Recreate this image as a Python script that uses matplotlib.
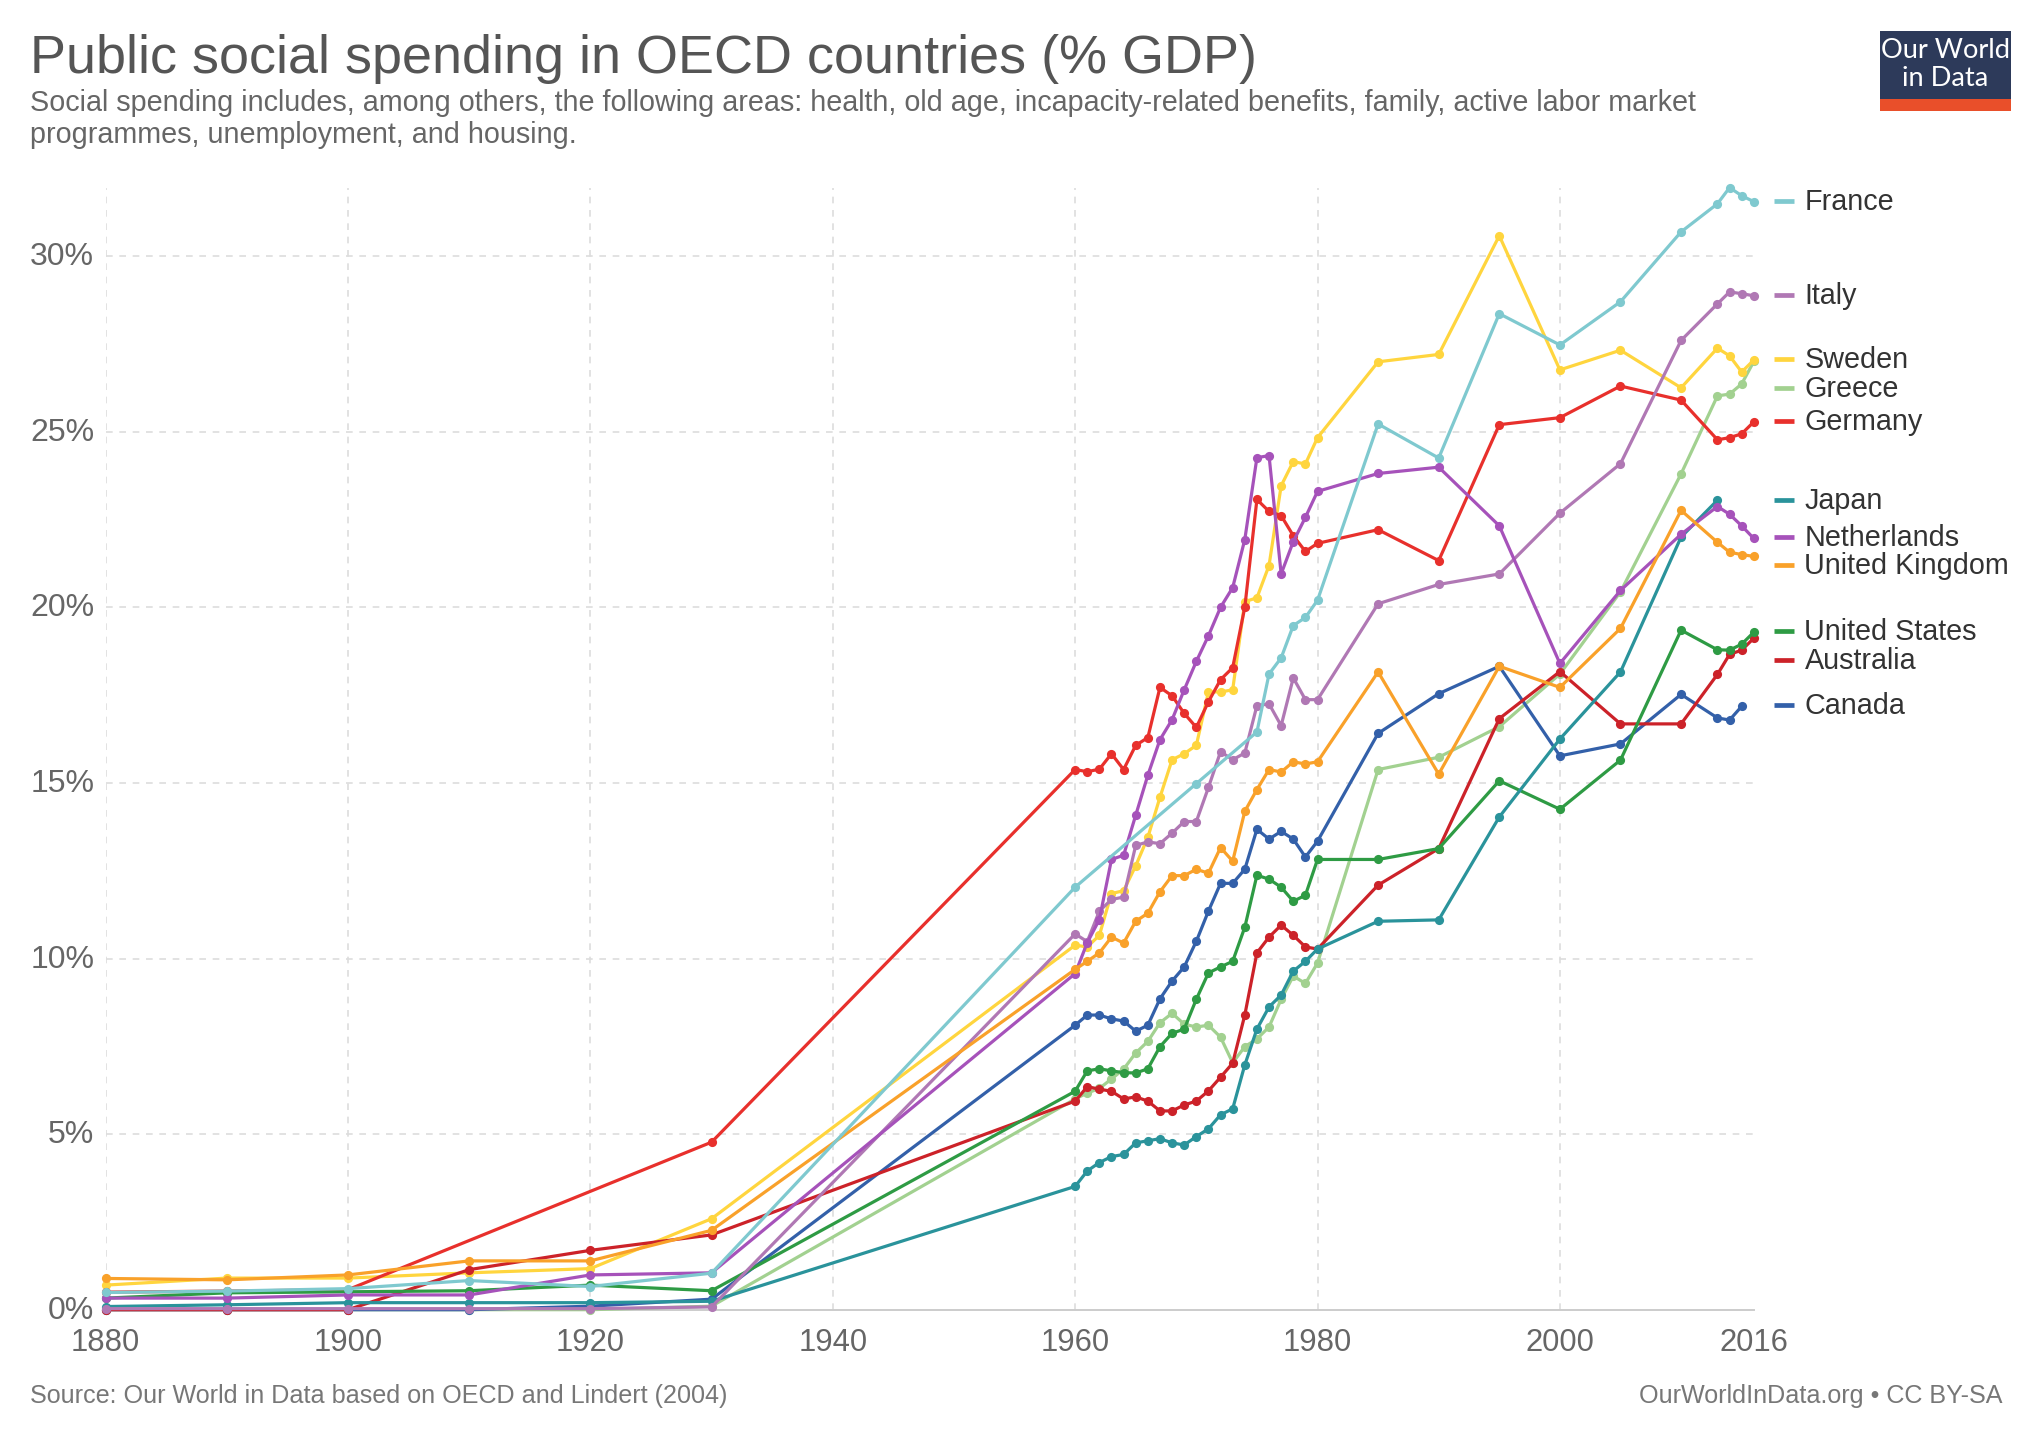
import matplotlib
matplotlib.use("Agg")
import matplotlib.pyplot as plt
from matplotlib.lines import Line2D
from matplotlib.patches import Rectangle
from matplotlib.transforms import ScaledTranslation

plt.rcParams['font.family'] = ['Liberation Sans', 'DejaVu Sans']

W, H = 2040, 1440

years = [1880, 1890, 1900, 1910, 1920, 1930] + list(range(1960, 1981)) + \
        [1985, 1990, 1995, 2000, 2005, 2010, 2013, 2014, 2015, 2016]

france = [0.49, 0.53, 0.60, 0.83, 0.66, 1.04, 12.03, None, None, None, None, None, None, None, None, None,
          14.98, None, None, None, None, 16.45, 18.10, 18.56, 19.48, 19.71, 20.20,
          25.22, 24.25, 28.36, 27.47, 28.70, 30.69, 31.49, 31.95, 31.72, 31.55]
italy = [0.03, 0.03, 0.03, 0.03, 0.03, 0.08, 10.70, 10.48, 11.35, 11.68, 11.75, 13.22, 13.32, 13.27, 13.57, 13.90,
         13.90, 14.87, 15.89, 15.66, 15.85, 17.20, 17.25, 16.63, 17.99, 17.37, 17.37,
         20.10, 20.65, 20.95, 22.68, 24.09, 27.60, 28.64, 28.98, 28.93, 28.87]
sweden = [0.70, 0.90, 0.90, 1.05, 1.17, 2.59, 10.38, 10.33, 10.66, 11.85, 11.93, 12.64, 13.45, 14.59, 15.66, 15.83,
          16.07, 17.59, 17.59, 17.65, 20.16, 20.27, 21.19, 23.46, 24.15, 24.08, 24.83,
          26.99, 27.20, 30.58, 26.76, 27.32, 26.25, 27.38, 27.16, 26.70, 27.04]
greece = [0.0, 0.0, 0.0, 0.0, 0.0, 0.10, 6.00, 6.17, 6.30, 6.57, 6.85, 7.31, 7.64, 8.17, 8.44, 8.13,
          8.05, 8.10, 7.76, 7.03, 7.49, 7.71, 8.05, 8.84, 9.50, 9.29, 9.87,
          15.38, 15.73, 16.60, 18.10, 20.44, 23.80, 26.02, 26.07, 26.36, 27.00]
germany = [0.50, 0.53, 0.57, None, None, 4.77, 15.38, 15.32, 15.39, 15.83, 15.38, 16.07, 16.29, 17.72, 17.48, 16.98,
           16.58, 17.31, 17.94, 18.28, 20.00, 23.07, 22.73, 22.61, 22.04, 21.59, 21.82,
           22.21, 21.33, 25.20, 25.40, 26.30, 25.90, 24.77, 24.83, 24.94, 25.28]
japan = [0.09, 0.14, 0.20, 0.20, 0.20, 0.24, 3.51, 3.95, 4.19, 4.36, 4.42, 4.75, 4.81, 4.87, 4.75, 4.69,
         4.93, 5.15, 5.55, 5.72, 6.97, 7.99, 8.62, 8.96, 9.64, 9.92, 10.27,
         11.06, 11.10, 14.03, 16.25, 18.16, 22.00, 23.05, None, None, None]
netherlands = [0.33, 0.33, 0.42, 0.42, 0.99, 1.05, 9.57, 10.45, 11.11, 12.82, 12.94, 14.08, 15.22, 16.23, 16.80, 17.65,
               18.46, 19.19, 20.00, 20.56, 21.93, 24.26, 24.32, 20.95, 21.87, 22.56, 23.30,
               23.81, 23.99, 22.32, 18.40, 20.48, 22.08, 22.87, 22.65, 22.32, 21.96]
uk = [0.89, 0.85, 0.99, 1.39, 1.39, 2.26, 9.69, 9.92, 10.16, 10.61, 10.44, 11.06, 11.29, 11.90, 12.36, 12.36,
      12.54, 12.43, 13.16, 12.77, 14.19, 14.81, 15.38, 15.31, 15.60, 15.54, 15.60,
      18.16, 15.25, 18.32, 17.72, 19.40, 22.76, 21.85, 21.57, 21.50, 21.45]
us = [0.33, 0.48, 0.51, 0.54, 0.70, 0.54, 6.22, 6.80, 6.86, 6.80, 6.75, 6.74, 6.86, 7.49, 7.87, 7.99,
      8.84, 9.59, 9.76, 9.92, 10.89, 12.37, 12.26, 12.03, 11.63, 11.80, 12.82,
      12.82, 13.13, 15.06, 14.25, 15.65, 19.35, 18.79, 18.78, 18.95, 19.29]
australia = [0.0, 0.0, 0.0, 1.14, 1.69, 2.13, 5.94, 6.35, 6.28, 6.22, 6.00, 6.06, 5.94, 5.66, 5.66, 5.83,
             5.94, 6.23, 6.62, 7.02, 8.39, 10.16, 10.61, 10.95, 10.66, 10.33, 10.27,
             12.09, 13.13, 16.83, 18.17, 16.68, 16.68, 18.09, 18.66, 18.78, 19.12]
canada = [0.0, 0.0, 0.0, 0.0, 0.10, 0.30, 8.10, 8.39, 8.39, 8.28, 8.22, 7.93, 8.10, 8.85, 9.36, 9.76,
          10.49, 11.35, 12.14, 12.14, 12.54, 13.68, 13.40, 13.62, 13.40, 12.89, 13.34,
          16.41, 17.54, 18.32, 15.77, 16.11, 17.52, 16.85, 16.79, 17.18, None]

# bottom to top
series = [
    ("Greece", greece, "#A2D190"),
    ("Sweden", sweden, "#FFD53E"),
    ("Germany", germany, "#E8302C"),
    ("Canada", canada, "#3360A9"),
    ("Australia", australia, "#CC2229"),
    ("United States", us, "#2E9B44"),
    ("Japan", japan, "#2A939B"),
    ("Italy", italy, "#B078B4"),
    ("Netherlands", netherlands, "#A652BA"),
    ("United Kingdom", uk, "#F9A12A"),
    ("France", france, "#7FC9CF"),
]

# label centres, figure pixels from the top
label_y = {"France": 201, "Italy": 295, "Sweden": 359, "Greece": 388, "Germany": 421,
           "Japan": 500, "Netherlands": 537, "United Kingdom": 565,
           "United States": 631, "Australia": 660, "Canada": 705}

xticks = [1880, 1900, 1920, 1940, 1960, 1980, 2000, 2016]
yticks = [0, 5, 10, 15, 20, 25, 30]


def fx(px):
    return px / W


def fy(px):
    return 1 - px / H


fig = plt.figure(figsize=(W / 100, H / 100), dpi=100, facecolor="white")
ax = fig.add_axes([fx(105.6), fy(1309.7), (1753.8 - 105.6) / W, (1309.7 - 188) / H])
ax.set_xlim(1880, 2016)
ax.set_ylim(0, (1309.7 - 188) / 35.12)

for name, vals, col in series:
    xs = [y for y, v in zip(years, vals) if v is not None]
    ys = [v for v in vals if v is not None]
    ax.plot(xs, ys, color=col, lw=2.3, marker="o", ms=6.6, mew=0, clip_on=False,
            solid_joinstyle="round", zorder=3)

ax.set_xticks(xticks)
ax.set_xticklabels([str(x) for x in xticks])
ax.set_yticks(yticks)
ax.set_yticklabels([f"{y}%" for y in yticks])
ax.tick_params(length=0, labelcolor="#666666", labelsize=22.3)
ax.tick_params(axis="x", pad=13.5)
ax.tick_params(axis="y", pad=8.2, labelsize=23)
# y labels sit a little above the gridlines
up = ScaledTranslation(0, 2.5 / 100, fig.dpi_scale_trans)
for lab in ax.get_yticklabels():
    lab.set_transform(lab.get_transform() + up)
ax.grid(True, color="#DDDDDD", lw=1.2, dashes=(4, 4), zorder=0)
ax.xaxis.get_gridlines()[-1].set_visible(False)
ax.yaxis.get_gridlines()[0].set_visible(False)
ax.set_axisbelow(True)
for side in ["top", "right", "left"]:
    ax.spines[side].set_visible(False)
ax.spines["bottom"].set_color("#CCCCCC")
ax.spines["bottom"].set_linewidth(1.4)

for name, vals, col in series:
    y = label_y[name]
    fig.add_artist(Line2D([fx(1774), fx(1794)], [fy(y), fy(y)], color=col, lw=3.4, solid_capstyle="butt"))
    fig.text(fx(1804.5), fy(y + 1), name, fontsize=20.7, color="#333333", va="center", ha="left")

fig.text(fx(30), fy(59), "Public social spending in OECD countries (% GDP)", fontsize=38.9,
         color="#555555", va="center", ha="left")
fig.text(fx(30), fy(103), "Social spending includes, among others, the following areas: health, old age, "
         "incapacity-related benefits, family, active labor market", fontsize=20.69, color="#666666",
         va="center", ha="left")
fig.text(fx(30), fy(135), "programmes, unemployment, and housing.", fontsize=20.69, color="#666666",
         va="center", ha="left")
fig.text(fx(30), fy(1396), "Source: Our World in Data based on OECD and Lindert (2004)", fontsize=18.1,
         color="#777777", va="center", ha="left")
fig.text(fx(2003), fy(1396), "OurWorldInData.org \u2022 CC BY-SA", fontsize=18.1, color="#777777",
         va="center", ha="right")

# logo
fig.add_artist(Rectangle((fx(1880), fy(99)), 131 / W, 68 / H, transform=fig.transFigure, color="#2D3A5A", lw=0))
fig.add_artist(Rectangle((fx(1880), fy(111)), 131 / W, 12 / H, transform=fig.transFigure, color="#E94F2A", lw=0))
fig.text(fx(1945.5), fy(51), "Our World", fontsize=19.6, family="Lato", color="white", va="center", ha="center")
fig.text(fx(1945.5), fy(79), "in Data", fontsize=19.6, family="Lato", color="white", va="center", ha="center")

fig.savefig("out.png", dpi=100)
